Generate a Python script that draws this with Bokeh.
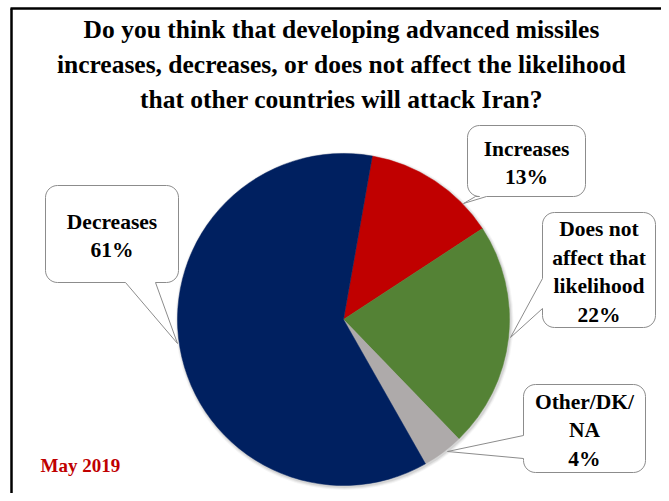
import math
from bokeh.plotting import figure
from bokeh.models import ColumnDataSource, Range1d
from bokeh.core.properties import value
from bokeh.embed import file_html
from bokeh.resources import INLINE

# ---------------- data ----------------
categories = ["Increases", "Does not affect that likelihood", "Other/DK/NA", "Decreases"]
label_lines = ["Increases", "Does not\naffect that\nlikelihood", "Other/DK/\nNA", "Decreases"]
values = [13, 22, 4, 61]
colors = ["#C00000", "#548235", "#AEAAAA", "#002060"]
title_text = ("Do you think that developing advanced missiles\n"
              "increases, decreases, or does not affect the likelihood\n"
              "that other countries will attack Iran?")
date_text = "May 2019"

# ---------------- layout (screen pixel coordinates) ----------------
W, H = 661, 493
def X(px):
    return px
def Y(py):
    return H - py

pie_cx, pie_cy, pie_r = 343, 319, 166
start_offset = 10  # degrees clockwise from 12 o'clock

# callout boxes: (x0, y0, x1, y1, side, a, b, tip)
boxes = [
    (467, 125, 585, 196, "bottom", 475, 486, (463, 203)),
    (542, 212, 655, 327, "left", 278, 308, (510, 337)),
    (523, 384, 645, 472, "left", 435, 458, (447, 451)),
    (45, 185, 178, 282, "bottom", 125, 155, (177, 343)),
]

p = figure(width=W, height=H, output_backend="svg", toolbar_location=None,
           x_range=Range1d(0, W), y_range=Range1d(0, H), min_border=0)
p.axis.visible = False
p.grid.visible = False
p.outline_line_color = None
p.background_fill_color = "white"

# frame lines (top and left visible)
p.line([X(11), X(11)], [Y(8), Y(H)], line_color="black", line_width=2.5)
p.line([X(10), X(W)], [Y(8), Y(8)], line_color="black", line_width=2.5)

# ---------------- pie ----------------
total = float(sum(values))
cw_start, cw_end = [], []
acc = start_offset
for v in values:
    cw_start.append(acc)
    acc += 360.0 * v / total
    cw_end.append(acc)

src = ColumnDataSource(dict(
    start=[math.radians(90 - e) for e in cw_end],
    end=[math.radians(90 - s) for s in cw_start],
    color=colors,
    cat=categories,
))

# soft shadow
for k, a in [(3, 0.08), (2, 0.12), (1, 0.18)]:
    p.circle(x=X(pie_cx + 1), y=Y(pie_cy + 1.5), radius=pie_r + k,
             fill_color="#808080", fill_alpha=a, line_color=None)

p.wedge(x=X(pie_cx), y=Y(pie_cy), radius=pie_r, start_angle="start", end_angle="end",
        fill_color="color", line_color="color", line_width=0.5, source=src)

# ---------------- callouts ----------------
def arc(cx, cy, r, a0, a1, n=8):
    pts = []
    for i in range(n + 1):
        t = math.radians(a0 + (a1 - a0) * i / n)
        pts.append((cx + r * math.cos(t), cy + r * math.sin(t)))
    return pts

def callout(x0, y0, x1, y1, side, a, b, tip, r=12):
    pts = []
    pts += arc(x0 + r, y0 + r, r, 180, 270)
    if side == "top":
        pts += [(min(a, b), y0), tip, (max(a, b), y0)]
    pts += arc(x1 - r, y0 + r, r, 270, 360)
    if side == "right":
        pts += [(x1, min(a, b)), tip, (x1, max(a, b))]
    pts += arc(x1 - r, y1 - r, r, 0, 90)
    if side == "bottom":
        pts += [(max(a, b), y1), tip, (min(a, b), y1)]
    pts += arc(x0 + r, y1 - r, r, 90, 180)
    if side == "left":
        pts += [(x0, max(a, b)), tip, (x0, min(a, b))]
    return [X(q[0]) for q in pts], [Y(q[1]) for q in pts]

tx, ty, tt = [], [], []
for (bx0, by0, bx1, by1, side, a, b, tip), lab, v in zip(boxes, label_lines, values):
    xs, ys = callout(bx0, by0, bx1, by1, side, a, b, tip)
    p.patch(xs, ys, fill_color="white", line_color="#8c8c8c", line_width=1)
    tx.append(X((bx0 + bx1) / 2))
    ty.append(Y((by0 + by1) / 2 + 2))
    tt.append(f"{lab}\n{v}%")

p.text(x=tx, y=ty, text=tt, text_align="center", text_baseline="middle",
       text_font=value("Liberation Serif"), text_font_style="bold",
       text_font_size=value("21.5px"), text_line_height=1.2, text_color="black")

# ---------------- title & date ----------------
p.text(x=[X(341)], y=[Y(64)], text=[title_text], text_align="center", text_baseline="middle",
       text_font=value("Liberation Serif"), text_font_style="bold",
       text_font_size=value("25.5px"), text_line_height=1.22, text_color="black")

p.text(x=[X(40)], y=[Y(465)], text=[date_text], text_align="left", text_baseline="middle",
       text_font=value("Liberation Serif"), text_font_style="bold",
       text_font_size=value("19px"), text_color="#C00000")

open("out.html", "w").write(file_html(p, INLINE))
